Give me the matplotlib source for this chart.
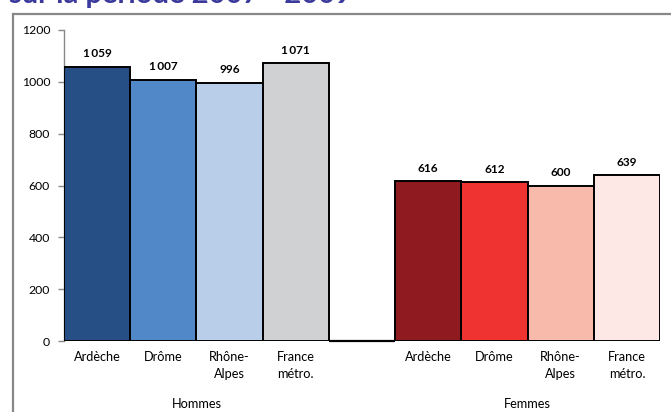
import matplotlib
matplotlib.use("Agg")
import matplotlib.pyplot as plt
from matplotlib.patches import Rectangle

plt.rcParams['font.family'] = ['Lato', 'DejaVu Sans']

# Data
zones = ["Ardèche", "Drôme", "Rhône-\nAlpes", "France\nmétro."]
groups = ["Hommes", "Femmes"]
hommes = [1059, 1007, 996, 1071]
femmes = [616, 612, 600, 639]
hommes_colors = ["#264f85", "#5088c8", "#b8cee9", "#d0d1d3"]
femmes_colors = ["#8f1a1f", "#ee3330", "#f8bbab", "#fde8e6"]
title = "sur la période 2007 - 2009"


def fmt(v):
    return f"{v:,}".replace(",", "\u2009")


W, H = 671, 412
fig = plt.figure(figsize=(W / 100, H / 100), dpi=100)

# Outer chart frame (extends past the right and bottom edges)
fig.patches.append(Rectangle((13 / W, -0.05), 1.2, (H - 14) / H + 0.05,
                             transform=fig.transFigure, fill=False,
                             edgecolor="#888888", linewidth=1.6, zorder=0))

# Partially visible title at the top
fig.text(9 / W, 1 - 2.5 / H, title, ha="left", va="baseline",
         fontsize=21, fontweight="bold", color="#3b3a9c")

ax = fig.add_axes([64 / W, 1 - 341 / H, (660 - 64) / W, (341 - 30) / H])

values = hommes + [0] + femmes
colors = hommes_colors + ["white"] + femmes_colors
xs = list(range(len(values)))
ax.bar(xs, values, width=1.0, color=colors, edgecolor="black",
       linewidth=1.4, zorder=3)
# Outline of the empty separator slot
ax.hlines(0, 3.5, 4.5, color="black", linewidth=1.6, zorder=4, clip_on=False)

for i, (x, v) in enumerate(zip(xs, values)):
    if i == 4:
        continue
    ax.text(x, v + 30, fmt(v), ha="center", va="bottom", fontsize=8.5,
            fontweight="bold", color="black")

ax.set_xlim(-0.5, len(values) - 0.5)
ax.set_ylim(0, 1200)
ax.set_yticks(range(0, 1201, 200))
ax.tick_params(axis="y", labelsize=8.8, colors="black", length=4,
               width=1, direction="out", color="#888888", pad=6)
ax.set_xticks([])
for side in ("top", "right", "bottom"):
    ax.spines[side].set_visible(False)
ax.spines["left"].set_color("#888888")
ax.spines["left"].set_linewidth(1)

# Category labels under each bar
for gi, offset in enumerate([0, 5]):
    for j, z in enumerate(zones):
        ax.text(offset + j, -40, z, ha="center", va="top", fontsize=9.2,
                linespacing=1.45, clip_on=False)
    ax.text(offset + 1.5, -220, groups[gi], ha="center", va="top",
            fontsize=9.2, clip_on=False)

fig.savefig("out.png", dpi=100)
